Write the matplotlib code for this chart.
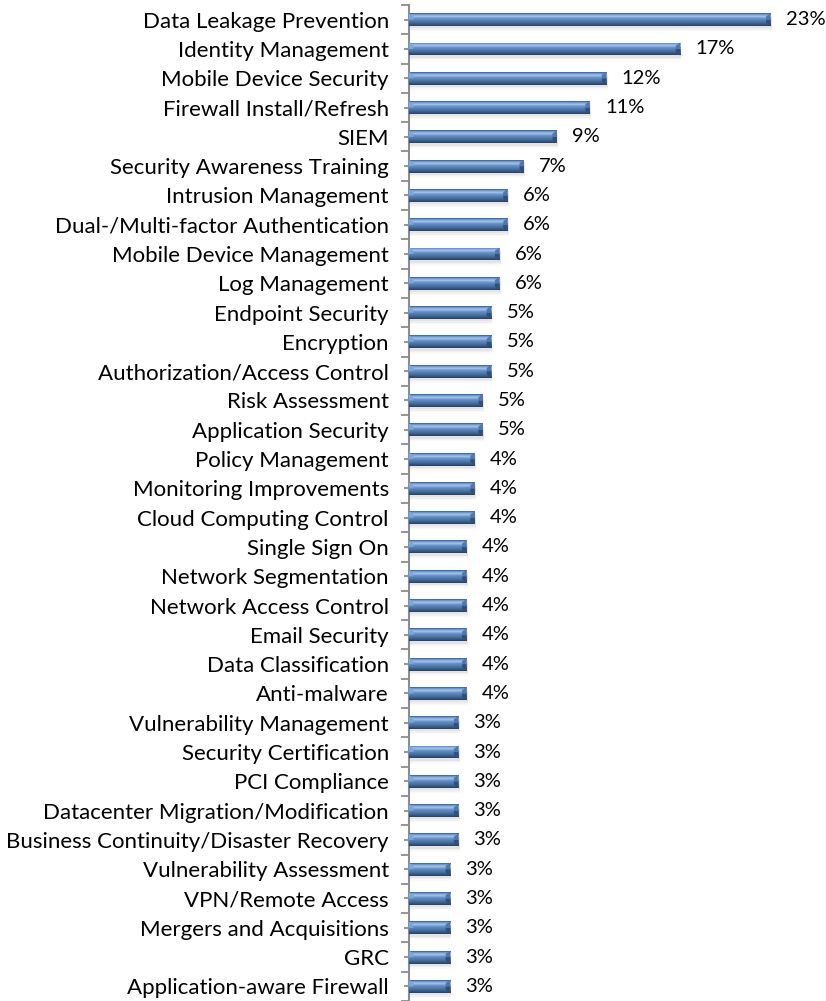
import numpy as np
import matplotlib.pyplot as plt
from matplotlib.patches import Polygon, Rectangle
from matplotlib.colors import LinearSegmentedColormap

# --- DATA ---
categories = [
    "Data Leakage Prevention", "Identity Management", "Mobile Device Security",
    "Firewall Install/Refresh", "SIEM", "Security Awareness Training",
    "Intrusion Management", "Dual-/Multi-factor Authentication",
    "Mobile Device Management", "Log Management", "Endpoint Security",
    "Encryption", "Authorization/Access Control", "Risk Assessment",
    "Application Security", "Policy Management", "Monitoring Improvements",
    "Cloud Computing Control", "Single Sign On", "Network Segmentation",
    "Network Access Control", "Email Security", "Data Classification",
    "Anti-malware", "Vulnerability Management", "Security Certification",
    "PCI Compliance", "Datacenter Migration/Modification",
    "Business Continuity/Disaster Recovery", "Vulnerability Assessment",
    "VPN/Remote Access", "Mergers and Acquisitions", "GRC",
    "Application-aware Firewall",
]
shares = [
    22.80, 17.10, 12.44, 11.40, 9.33, 7.25, 6.22, 6.22, 5.70, 5.70,
    5.18, 5.18, 5.18, 4.66, 4.66, 4.15, 4.15, 4.15, 3.63, 3.63,
    3.63, 3.63, 3.63, 3.63, 3.11, 3.11, 3.11, 3.11, 3.11, 2.59,
    2.59, 2.59, 2.59, 2.59,
]

# --- STYLE ---
FONT = ["Lato", "DejaVu Sans"]
LABEL_SIZE = 16
VALUE_SIZE = 14.5
AXIS_GRAY = "#8c8c8c"
BAR_HEIGHT = 0.44

plt.rcParams["font.family"] = FONT

fig = plt.figure(figsize=(8.26, 10.01), dpi=100)
ax = fig.add_axes([409 / 826, 0.0, 1 - 409 / 826, 0.995])

y = np.arange(len(categories))
bars = ax.barh(y, shares, height=BAR_HEIGHT, color="none", edgecolor="none", zorder=3)

ax.set_xlim(0, 26.3)
ax.set_ylim(len(categories) - 0.5, -0.5)

# vertical gradient for the bevelled look
bar_cmap = LinearSegmentedColormap.from_list(
    "bevel",
    [(0.0, "#35598a"), (0.10, "#6c98d0"), (0.26, "#a6c6ec"),
     (0.42, "#6891c8"), (0.72, "#45709f"), (1.0, "#22406a")],
)
grad = np.linspace(0, 1, 64).reshape(-1, 1)

for b in bars:
    x0, yb, w, h = b.get_x(), b.get_y(), b.get_width(), b.get_height()
    # soft shadow below
    for k, a in enumerate([0.12, 0.08, 0.04]):
        ax.add_patch(Rectangle((x0 + 0.08, yb + 0.08 + k * 0.05), w, h,
                               color="#8a8a8a", alpha=a, lw=0, zorder=2))
    im = ax.imshow(grad, cmap=bar_cmap, aspect="auto",
                   extent=[x0, x0 + w, yb + h, yb], zorder=3,
                   interpolation="bilinear")
    im.set_clip_path(b)
    # bevelled ends
    bev = 0.28
    e = h * 0.25
    ax.add_patch(Polygon([(w - bev, yb + h * 0.5), (w, yb + h * 0.5), (w, yb + h), (w - bev, yb + h - e)],
                         closed=True, color="#2d5080", lw=0, zorder=4))
    ax.add_patch(Polygon([(w - bev, yb + e), (w, yb), (w, yb + h * 0.5), (w - bev, yb + h * 0.5)],
                         closed=True, color="#4d78b0", lw=0, zorder=4))
    ax.add_patch(Polygon([(x0, yb), (x0 + bev, yb + e), (x0 + bev, yb + h * 0.5), (x0, yb + h * 0.5)],
                         closed=True, color="#7da6da", lw=0, zorder=4))
    ax.annotate(f"{w:.0f}%", (w, yb + h / 2), xytext=(11, 0),
                textcoords="offset points", va="center", ha="left",
                fontsize=VALUE_SIZE, color="black")

# --- AXES ---
for s in ["top", "right", "bottom"]:
    ax.spines[s].set_visible(False)
ax.spines["left"].set_color(AXIS_GRAY)
ax.spines["left"].set_linewidth(1.5)
ax.set_xticks([])

ax.set_yticks(np.arange(len(categories) + 1) - 0.5)
ax.set_yticklabels([])
ax.tick_params(axis="y", which="major", length=5.5, width=1.3, color=AXIS_GRAY)
ax.set_yticks(y, minor=True)
ax.set_yticklabels(categories, minor=True)
ax.tick_params(axis="y", which="minor", length=3.5, width=1.3, color=AXIS_GRAY,
               pad=11, labelsize=LABEL_SIZE)

fig.savefig("out.png", dpi=100)
